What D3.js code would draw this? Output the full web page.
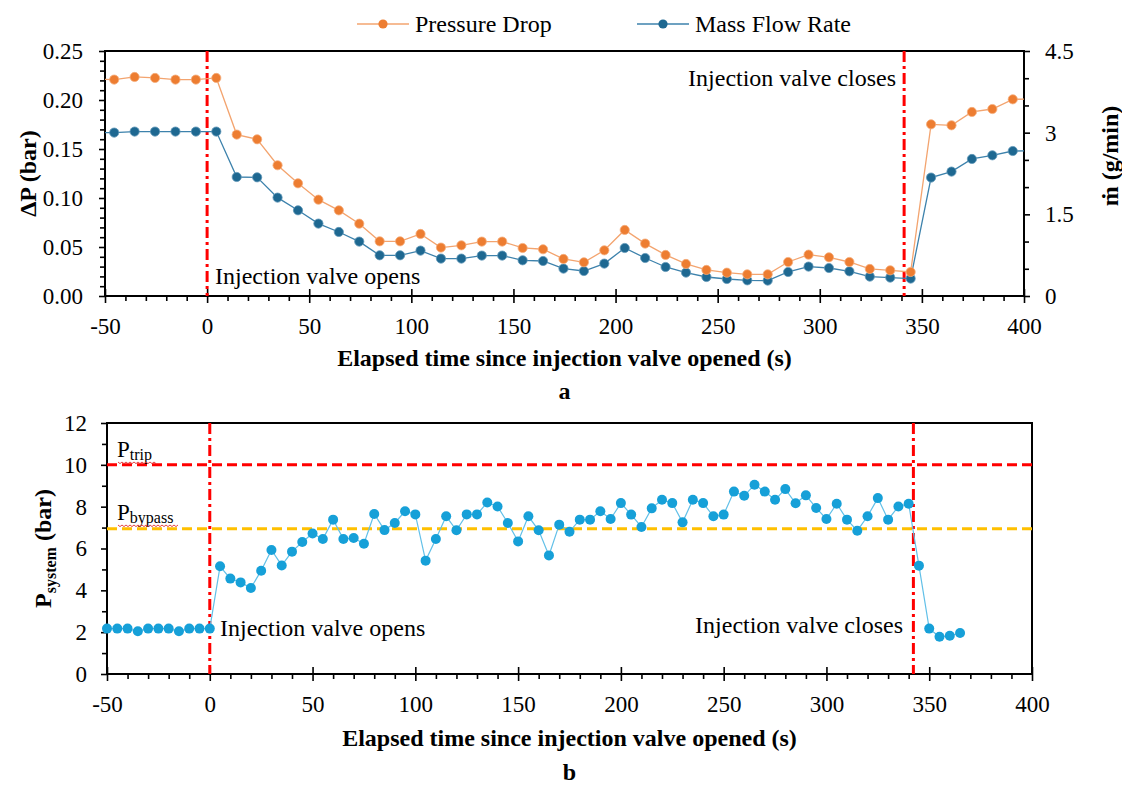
<!DOCTYPE html>
<html>
<head>
<meta charset="utf-8">
<script src="https://cdn.jsdelivr.net/npm/d3@7/dist/d3.min.js"></script>
</head>
<body style="margin:0">
<svg id="chart" width="1122" height="785" font-family="Liberation Serif" style="display:block;background:#fff"></svg>
<script>
// ---- Panel a: pressure drop and mass flow rate, sampled every 10 s ----
const timesA = [-55.5, -45.5, -35.5, -25.5, -15.5, -5.5, 4.5, 14.5, 24.5, 34.5, 44.5, 54.5, 64.5, 74.5,
  84.5, 94.5, 104.5, 114.5, 124.5, 134.5, 144.5, 154.5, 164.5, 174.5, 184.5, 194.5, 204.5,
  214.5, 224.5, 234.5, 244.5, 254.5, 264.5, 274.5, 284.5, 294.5, 304.5, 314.5, 324.5,
  334.5, 344.5, 354.5, 364.5, 374.5, 384.5, 394.5, 404.5];
const pressureDrop = [0.2212, 0.2208, 0.2235, 0.2225, 0.2208, 0.2208, 0.2225, 0.1647, 0.1599, 0.1334,
  0.1150, 0.0983, 0.0874, 0.0738, 0.0558, 0.0558, 0.0633, 0.0494, 0.0517, 0.0555, 0.0555,
  0.0490, 0.0477, 0.0378, 0.0344, 0.0466, 0.0674, 0.0535, 0.0419, 0.0327, 0.0266, 0.0238,
  0.0221, 0.0221, 0.0347, 0.0422, 0.0395, 0.0347, 0.0276, 0.0262, 0.0245, 0.1752, 0.1742,
  0.1878, 0.1908, 0.2007, 0.2010];
const massFlow = [3.000, 3.001, 3.020, 3.020, 3.020, 3.020, 3.020, 2.186, 2.180, 1.807, 1.574, 1.330,
  1.176, 0.999, 0.748, 0.748, 0.834, 0.687, 0.687, 0.742, 0.742, 0.656, 0.643, 0.503, 0.459,
  0.595, 0.882, 0.698, 0.533, 0.430, 0.349, 0.312, 0.288, 0.283, 0.441, 0.540, 0.514, 0.454,
  0.356, 0.338, 0.320, 2.175, 2.285, 2.517, 2.584, 2.663, 2.665];

// ---- Panel b: system pressure, sampled every 5 s ----
const timesB = [-50, -45, -40, -35, -30, -25, -20, -15, -10, -5, 0, 5, 10, 15, 20, 25, 30, 35, 40, 45,
  50, 55, 60, 65, 70, 75, 80, 85, 90, 95, 100, 105, 110, 115, 120, 125, 130, 135, 140, 145,
  150, 155, 160, 165, 170, 175, 180, 185, 190, 195, 200, 205, 210, 215, 220, 225, 230, 235,
  240, 245, 250, 255, 260, 265, 270, 275, 280, 285, 290, 295, 300, 305, 310, 315, 320, 325,
  330, 335, 340, 345, 350, 355, 360, 365];
const systemPressure = [2.17, 2.17, 2.17, 2.04, 2.17, 2.17, 2.17, 2.04, 2.17, 2.17, 2.17, 5.15, 4.56,
  4.38, 4.11, 4.94, 5.93, 5.19, 5.85, 6.31, 6.72, 6.45, 7.38, 6.45, 6.50, 6.23, 7.65, 6.88,
  7.22, 7.78, 7.63, 5.42, 6.45, 7.54, 6.87, 7.63, 7.63, 8.20, 8.01, 7.22, 6.34, 7.54, 6.87,
  5.67, 7.14, 6.80, 7.38, 7.38, 7.78, 7.41, 8.17, 7.62, 7.03, 7.92, 8.33, 8.17, 7.25, 8.33,
  8.17, 7.54, 7.62, 8.72, 8.52, 9.05, 8.72, 8.33, 8.84, 8.16, 8.54, 7.94, 7.41, 8.14, 7.38,
  6.85, 7.54, 8.41, 7.38, 8.01, 8.14, 5.18, 2.17, 1.78, 1.83, 1.96];

// valve events and pressure limits
const valveOpenT = 0;
const valveCloseTA = 341.3;
const valveCloseTB = 342.3;
const pTrip = 10;
const pBypass = 6.95;

// tick values
const xMajor = [-50, 0, 50, 100, 150, 200, 250, 300, 350, 400];
const xMinor = d3.range(-40, 400, 10).filter(v => v % 50 !== 0);
const dpMajor = [0, 0.05, 0.10, 0.15, 0.20, 0.25];
const dpMinor = d3.range(1, 25).filter(v => v % 5 !== 0).map(v => v / 100);
const mMajor = [0, 1.5, 3, 4.5];
const mMinor = [0.5, 1, 2, 2.5, 3.5, 4];
const pMajor = [0, 2, 4, 6, 8, 10, 12];
const pMinor = [1, 3, 5, 7, 9, 11];

const FACE = "Liberation Serif";
const svg = d3.select("#chart");
const C = {
  orange: "#ED7D31", orangeLine: "#F3A46F",
  navy: "#1E6891", navyLine: "#3D82AC",
  cyan: "#16A0D8", cyanLine: "#62C0E8",
  red: "#FF0000", amber: "#FFC000"
};
const plainNum = d => String(d);   // hyphen-minus for negatives

// every label goes through here so the serif face is set on the element itself
function label(parent, x, y, size, str, opts = {}) {
  const t = parent.append("text")
    .attr("font-family", FACE).style("font-family", FACE)
    .attr("font-size", size).attr("fill", "#000");
  if (opts.transform) t.attr("transform", opts.transform);
  else t.attr("x", x).attr("y", y);
  if (opts.anchor) t.attr("text-anchor", opts.anchor);
  if (opts.bold) t.attr("font-weight", "bold");
  if (str != null) t.text(str);
  return t;
}

// ================= Panel a =================
const A = { l: 105, r: 1024, t: 51, b: 296 };
const xA = d3.scaleLinear().domain([-50, 400]).range([A.l, A.r]);
const yDP = d3.scaleLinear().domain([0, 0.25]).range([A.b, A.t]);
const yM = d3.scaleLinear().domain([0, 4.5]).range([A.b, A.t]);

svg.append("clipPath").attr("id", "clipA").append("rect")
  .attr("x", A.l).attr("y", A.t).attr("width", A.r - A.l).attr("height", A.b - A.t);

function styleTicks(g, size) {
  g.attr("font-family", FACE).attr("font-size", size);
  g.select(".domain").remove();
  g.selectAll(".tick line").attr("stroke", "#000").attr("stroke-width", 1.6);
  g.selectAll(".tick text").attr("fill", "#000")
    .attr("font-family", FACE).style("font-family", FACE).attr("font-size", size);
}

function xAxes(scale, bottom) {
  const gMin = svg.append("g").attr("transform", `translate(0,${bottom})`)
    .call(d3.axisBottom(scale).tickValues(xMinor).tickSize(5).tickFormat(""));
  styleTicks(gMin, 23);
  const gMaj = svg.append("g").attr("transform", `translate(0,${bottom})`)
    .call(d3.axisBottom(scale).tickValues(xMajor).tickSize(7).tickPadding(15).tickFormat(plainNum));
  styleTicks(gMaj, 23);
  gMaj.selectAll(".tick line").attr("y1", -7);
}

xAxes(xA, A.b);

// left axis (pressure drop)
const gDPmin = svg.append("g").attr("transform", `translate(${A.l},0)`)
  .call(d3.axisLeft(yDP).tickValues(dpMinor).tickSize(5).tickFormat(""));
styleTicks(gDPmin, 23);
const gDP = svg.append("g").attr("transform", `translate(${A.l},0)`)
  .call(d3.axisLeft(yDP).tickValues(dpMajor).tickSize(6).tickPadding(16).tickFormat(d3.format(".2f")));
styleTicks(gDP, 23);

// right axis (mass flow)
const gMmin = svg.append("g").attr("transform", `translate(${A.r},0)`)
  .call(d3.axisRight(yM).tickValues(mMinor).tickSize(5).tickFormat(""));
styleTicks(gMmin, 23);
const gM = svg.append("g").attr("transform", `translate(${A.r},0)`)
  .call(d3.axisRight(yM).tickValues(mMajor).tickSize(6).tickPadding(15).tickFormat(plainNum));
styleTicks(gM, 23);

// frame
svg.append("rect").attr("x", A.l).attr("y", A.t).attr("width", A.r - A.l).attr("height", A.b - A.t)
  .attr("fill", "none").attr("stroke", "#000").attr("stroke-width", 2);

// valve event lines
[valveOpenT, valveCloseTA].forEach(t => {
  svg.append("line").attr("x1", xA(t)).attr("x2", xA(t)).attr("y1", A.t).attr("y2", A.b)
    .attr("stroke", C.red).attr("stroke-width", 3).attr("stroke-dasharray", "11,4,3,4");
});

const dataA = timesA.map((t, i) => ({ t, dp: pressureDrop[i], m: massFlow[i] }));
const plotA = svg.append("g").attr("clip-path", "url(#clipA)");

plotA.append("path").datum(dataA)
  .attr("d", d3.line().x(d => xA(d.t)).y(d => yM(d.m)))
  .attr("fill", "none").attr("stroke", C.navyLine).attr("stroke-width", 1.3);
plotA.append("path").datum(dataA)
  .attr("d", d3.line().x(d => xA(d.t)).y(d => yDP(d.dp)))
  .attr("fill", "none").attr("stroke", C.orangeLine).attr("stroke-width", 1.3);
plotA.selectAll(".mk-m").data(dataA).join("circle")
  .attr("cx", d => xA(d.t)).attr("cy", d => yM(d.m)).attr("r", 4.6)
  .attr("fill", C.navy).attr("stroke", "#5f97b8").attr("stroke-width", 0.8);
plotA.selectAll(".mk-dp").data(dataA).join("circle")
  .attr("cx", d => xA(d.t)).attr("cy", d => yDP(d.dp)).attr("r", 4.6)
  .attr("fill", C.orange).attr("stroke", "#f5ad7c").attr("stroke-width", 0.8);

// annotations
label(svg, 215, 284, 24, "Injection valve opens");
label(svg, 896, 86, 24, "Injection valve closes", { anchor: "end" });

// axis titles
label(svg, 0, 0, 24, "ΔP (bar)", { transform: `translate(36,${(A.t + A.b) / 2}) rotate(-90)`, anchor: "middle", bold: true });
label(svg, 0, 0, 24, "ṁ (g/min)", { transform: `translate(1118,156) rotate(-90)`, anchor: "middle", bold: true });
label(svg, (A.l + A.r) / 2, 366, 24, "Elapsed time since injection valve opened (s)", { anchor: "middle", bold: true });
label(svg, (A.l + A.r) / 2, 399, 24, "a", { anchor: "middle", bold: true });

// legend
const legend = [
  { label: "Pressure Drop", x: 357, line: C.orangeLine, fill: C.orange },
  { label: "Mass Flow Rate", x: 637, line: C.navyLine, fill: C.navy }
];
legend.forEach(it => {
  svg.append("line").attr("x1", it.x).attr("x2", it.x + 52).attr("y1", 24).attr("y2", 24)
    .attr("stroke", it.line).attr("stroke-width", 1.3);
  svg.append("circle").attr("cx", it.x + 26).attr("cy", 24).attr("r", 4.6).attr("fill", it.fill);
  label(svg, it.x + 58, 32, 24, it.label);
});

// ================= Panel b =================
const B = { l: 107, r: 1032, t: 423, b: 674 };
const xB = d3.scaleLinear().domain([-50, 400]).range([B.l, B.r]);
const yP = d3.scaleLinear().domain([0, 12]).range([B.b, B.t]);

xAxes(xB, B.b);
const gPmin = svg.append("g").attr("transform", `translate(${B.l},0)`)
  .call(d3.axisLeft(yP).tickValues(pMinor).tickSize(5).tickFormat(""));
styleTicks(gPmin, 23);
const gP = svg.append("g").attr("transform", `translate(${B.l},0)`)
  .call(d3.axisLeft(yP).tickValues(pMajor).tickSize(6).tickPadding(14).tickFormat(plainNum));
styleTicks(gP, 23);

svg.append("rect").attr("x", B.l).attr("y", B.t).attr("width", B.r - B.l).attr("height", B.b - B.t)
  .attr("fill", "none").attr("stroke", "#000").attr("stroke-width", 2);

// limit lines
svg.append("line").attr("x1", B.l).attr("x2", B.r).attr("y1", yP(pTrip)).attr("y2", yP(pTrip))
  .attr("stroke", C.red).attr("stroke-width", 3).attr("stroke-dasharray", "10,5");
svg.append("line").attr("x1", B.l).attr("x2", B.r).attr("y1", yP(pBypass)).attr("y2", yP(pBypass))
  .attr("stroke", C.amber).attr("stroke-width", 3).attr("stroke-dasharray", "10,5");

[valveOpenT, valveCloseTB].forEach(t => {
  svg.append("line").attr("x1", xB(t)).attr("x2", xB(t)).attr("y1", B.t).attr("y2", B.b)
    .attr("stroke", C.red).attr("stroke-width", 3).attr("stroke-dasharray", "11,4,3,4");
});

// limit labels with a wavy underline under the subscript
function wave(x0, x1, y) {
  let d = `M${x0},${y}`;
  for (let x = x0, k = 0; x < x1; x += 2, k++) d += ` L${x + 2},${y + (k % 2 ? 0 : 1.6)}`;
  return d;
}
function limitLabel(x, y, sub, subWidth) {
  const t = label(svg, x, y, 23, null);
  t.append("tspan").text("P");
  t.append("tspan").attr("dy", 3).attr("font-size", 16).text(sub);
  svg.append("path").attr("d", wave(x + 1, x + 16 + subWidth, y + 5)).attr("fill", "none")
    .attr("stroke", "#e03030").attr("stroke-width", 0.9);
}
limitLabel(117, 457, "trip", 23);
limitLabel(117, 520, "bypass", 45);

const dataB = timesB.map((t, i) => ({ t, p: systemPressure[i] }));
svg.append("path").datum(dataB)
  .attr("d", d3.line().x(d => xB(d.t)).y(d => yP(d.p)))
  .attr("fill", "none").attr("stroke", C.cyanLine).attr("stroke-width", 1.2);
svg.selectAll(".mk-p").data(dataB).join("circle")
  .attr("cx", d => xB(d.t)).attr("cy", d => yP(d.p)).attr("r", 5)
  .attr("fill", C.cyan);

label(svg, 220, 636, 24, "Injection valve opens");
label(svg, 903, 633, 24, "Injection valve closes", { anchor: "end" });

const yt = label(svg, 0, 0, 24, null, { transform: `translate(51,${(B.t + B.b) / 2}) rotate(-90)`, anchor: "middle", bold: true });
yt.append("tspan").text("P");
yt.append("tspan").attr("font-size", 16).attr("dy", 5).text("system");
yt.append("tspan").attr("dy", -5).text(" (bar)");

label(svg, (B.l + B.r) / 2, 746, 24, "Elapsed time since injection valve opened (s)", { anchor: "middle", bold: true });
label(svg, (B.l + B.r) / 2, 780, 24, "b", { anchor: "middle", bold: true });
</script>
</body>
</html>
